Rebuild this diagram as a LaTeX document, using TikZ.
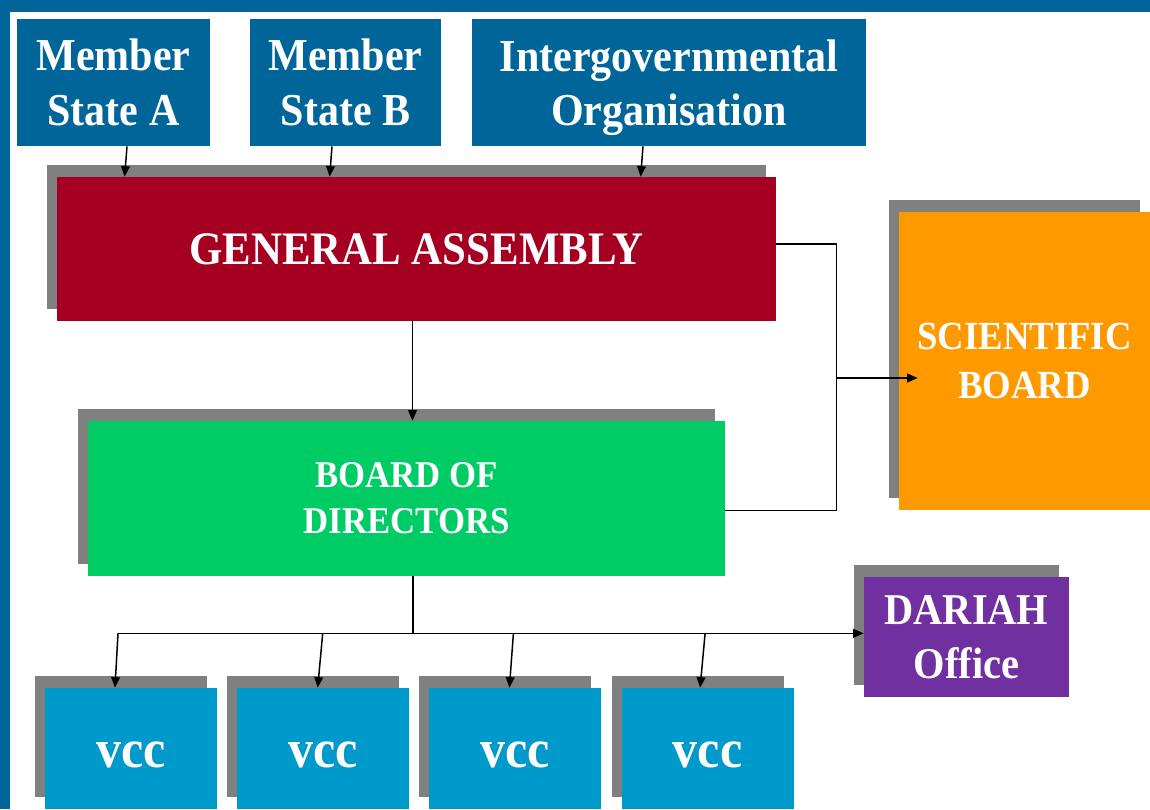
\documentclass[tikz,border=0pt]{standalone}
\usepackage{fontspec}
\setmainfont{Liberation Serif}[FakeStretch=0.92]
\usetikzlibrary{shapes,arrows.meta,positioning,shadows,calc}

\definecolor{frameblue}{HTML}{006699}
\definecolor{gared}{HTML}{A50021}
\definecolor{bodgreen}{HTML}{00CC66}
\definecolor{sborange}{HTML}{FF9900}
\definecolor{darpurple}{HTML}{7030A0}
\definecolor{vccblue}{HTML}{0099CC}
\definecolor{shgrey}{HTML}{808080}
\newcommand{\fsz}[2]{\fontsize{#1}{#2}\selectfont}

\begin{document}
\begin{tikzpicture}[x=0.02cm,y=-0.02cm,
    box/.style={rectangle,inner sep=0pt,text=white,align=center},
    shbox/.style={box,general shadow={fill=shgrey,shadow xshift=-0.2cm,shadow yshift=0.24cm}},
    conn/.style={line width=0.85pt},
    arr/.style={conn,-{Triangle[length=6pt,width=5pt]}}]
    \def\px{0.02cm}
    % frame
    \fill[white] (0,0) rectangle (1150,809);
    \fill[frameblue] (0,0) rectangle (1150,12);
    \fill[frameblue] (0,0) rectangle (10,809);

    % members
    \node[box,fill=frameblue,minimum width=193*\px,minimum height=127*\px,font=\bfseries\fsz{26pt}{31pt}] (msA) at (113.5,82.5) {Member\\State A};
    \node[box,fill=frameblue,minimum width=191*\px,minimum height=127*\px,font=\bfseries\fsz{26pt}{31pt}] (msB) at (345.5,82.5) {Member\\State B};
    \node[box,fill=frameblue,minimum width=394*\px,minimum height=127*\px,text depth=0pt,font=\bfseries\fsz{26pt}{31pt}] (igo) at (669,82.5) {Intergovernmental\\Organisation};

    % boards
    \node[shbox,fill=gared,minimum width=719*\px,minimum height=144*\px,font=\bfseries\fsz{26.5pt}{30pt}] (ga) at (416.5,249) {GENERAL ASSEMBLY};
    \node[shbox,fill=bodgreen,minimum width=637*\px,minimum height=155*\px,font=\bfseries\fsz{21.5pt}{26pt}] (bod) at (406.5,498.5) {BOARD OF\\DIRECTORS};
    \node[shbox,fill=sborange,minimum width=251*\px,minimum height=298*\px,font=\bfseries\fsz{22.7pt}{27.8pt}] (sb) at (1024.5,361) {SCIENTIFIC\\BOARD};
    \node[shbox,fill=darpurple,minimum width=205*\px,minimum height=120*\px,font=\bfseries\fsz{25pt}{30.6pt}] (dar) at (966.5,637) {DARIAH\\Office};

    % vcc row
    \foreach \i in {1,...,4}
        \node[shbox,fill=vccblue,minimum width=172*\px,minimum height=121*\px,text height=22pt,font=\bfseries\fsz{31pt}{36pt}] (vcc\i) at (131+192.2*\i-192.2,748.5) {vcc};

    % top arrows
    \draw[arr] ($(msA.south)+(13.5,0)$) -- ($(ga.north west)+(68,0)$);
    \draw[arr] ($(msB.south)+(-13.5,0)$) -- ($(ga.north west)+(273,0)$);
    \draw[arr] ($(igo.south)+(-26,0)$) -- ($(ga.north west)+(584,0)$);
    \draw[arr] ($(ga.south)+(-4,0)$) -- ($(bod.north)+(6,0)$);

    % scientific board link
    \coordinate (sbj) at ($(sb.west)+(-62,17)$);
    \draw[conn] ($(ga.east)+(0,-5)$) -| (sbj) |- ($(bod.east)+(0,12)$);
    \draw[arr] (sbj) -- ($(sb.west)+(19,17)$);

    % bus to vcc and office
    \coordinate (bus) at ($(bod.south)+(6.5,57)$);
    \draw[conn] ($(bod.south)+(6.5,0)$) -- (bus);
    \draw[arr] ($(vcc1.north |- bus)+(-13,0)$) -- (dar.west |- bus);
    \draw[arr] ($(vcc1.north |- bus)+(-13,0)$) -- ($(vcc1.north)+(-16,0)$);
    \draw[arr] ($(vcc2.north |- bus)+(-0.5,0)$) -- ($(vcc2.north)+(-5.5,0)$);
    \draw[arr] ($(vcc3.north |- bus)+(-2,0)$) -- ($(vcc3.north)+(-6,0)$);
    \draw[arr] ($(vcc4.north |- bus)+(-2.5,0)$) -- ($(vcc4.north)+(-7.5,0)$);

\end{tikzpicture}
\end{document}
